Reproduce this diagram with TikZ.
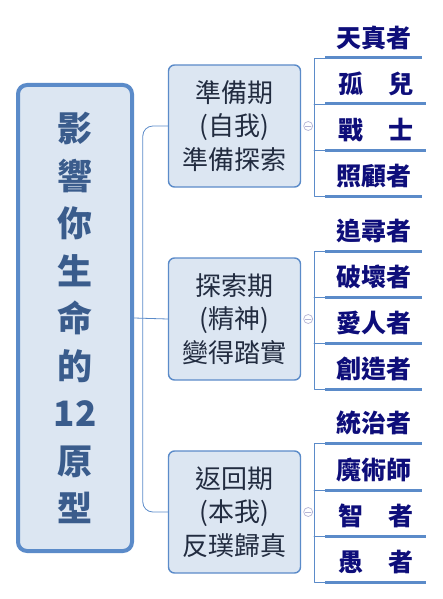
\documentclass[tikz,border=0pt]{standalone}
\usepackage{fontspec}
\setmainfont{Noto Sans CJK TC}
\usetikzlibrary{positioning}
\definecolor{frame}{RGB}{91,139,201}
\definecolor{paper}{RGB}{220,230,242}
\definecolor{rootink}{RGB}{58,92,140}
\definecolor{stageink}{RGB}{34,44,64}
\definecolor{roleink}{RGB}{14,14,122}
\definecolor{knobline}{RGB}{180,180,212}
\begin{document}
\begin{tikzpicture}[x=1pt,y=-1pt,line join=round,line cap=round,
	root/.style={draw=frame,line width=4pt,fill=paper,rounded corners=9pt,minimum width=114pt,minimum height=466pt,align=center,text=rootink,font=\bfseries\fontsize{35}{47.5}\selectfont},
	stage/.style={draw=frame,line width=1.4pt,fill=paper,rounded corners=6pt,minimum width=132pt,minimum height=122pt,align=center,text=stageink,font=\fontsize{26}{33.5}\selectfont},
	role/.style={anchor=south west,minimum width=97pt,minimum height=40pt,inner sep=0pt,text=roleink,font=\bfseries\fontsize{25}{25}\selectfont},
	wide/.style={minimum width=101pt},
	under/.style={draw=frame,line width=3pt,line cap=butt},
	link/.style={draw=frame,line width=.8pt},
	knob/.style={circle,draw=knobline,line width=.7pt,minimum size=9pt,inner sep=0pt}]
	\useasboundingbox (0,0) rectangle (443,599);
	% 根
	\node[root] (core) at (75,318) {影\\響\\你\\生\\命\\的\\12\\原\\型};
	% 三期
	\node[stage] (s1) at (234.5,126) {準備期\\(自我)\\準備探索};
	\node[stage] (s2) at (234.5,319) {探索期\\(精神)\\變得踏實};
	\node[stage] (s3) at (234.5,512) {返回期\\(本我)\\反璞歸真};
	\draw[link,rounded corners=10pt] (s1.west) -- ++(-25,0) |- (s3.west);
	\draw[link] (core.east) -- (s2.west);
	% 收合鈕
	\node[knob] (k1) at ([xshift=7pt]s1.east) {};
	\node[knob] (k2) at ([xshift=7pt]s2.east) {};
	\node[knob] (k3) at ([xshift=7pt]s3.east) {};
	\draw[knobline,line width=.7pt] ([xshift=2pt]k1.west) -- ([xshift=-2pt]k1.east);
	\draw[knobline,line width=.7pt] ([xshift=2pt]k2.west) -- ([xshift=-2pt]k2.east);
	\draw[knobline,line width=.7pt] ([xshift=2pt]k3.west) -- ([xshift=-2pt]k3.east);
	% 原型
	\node[role] (r1) at (325,58) {天真者};
	\node[role,wide] (r2) at (325,104) {孤　兒};
	\node[role,wide] (r3) at (325,150) {戰　士};
	\node[role] (r4) at (325,196) {照顧者};
	\node[role] (r5) at (325,251) {追尋者};
	\node[role] (r6) at (325,297) {破壞者};
	\node[role] (r7) at (325,343) {愛人者};
	\node[role] (r8) at (325,389) {創造者};
	\node[role] (r9) at (325,443) {統治者};
	\node[role] (r10) at (325,490) {魔術師};
	\node[role,wide] (r11) at (325,536) {智　者};
	\node[role,wide] (r12) at (325,582) {愚　者};
	\foreach \r in {r1,r2,r3,r4,r5,r6,r7,r8,r9,r10,r11,r12}
		\draw[under] (\r.south west) -- (\r.south east);
	% 括號
	\draw[link] (r1.south west) -- ++(-11,0) |- (r4.south west);
	\draw[link] ([xshift=-11pt]r2.south west) -- (r2.south west);
	\draw[link] ([xshift=-11pt]r3.south west) -- (r3.south west);
	\draw[link] (r5.south west) -- ++(-11,0) |- (r8.south west);
	\draw[link] ([xshift=-11pt]r6.south west) -- (r6.south west);
	\draw[link] ([xshift=-11pt]r7.south west) -- (r7.south west);
	\draw[link] (r9.south west) -- ++(-11,0) |- (r12.south west);
	\draw[link] ([xshift=-11pt]r10.south west) -- (r10.south west);
	\draw[link] ([xshift=-11pt]r11.south west) -- (r11.south west);
\end{tikzpicture}
\end{document}
